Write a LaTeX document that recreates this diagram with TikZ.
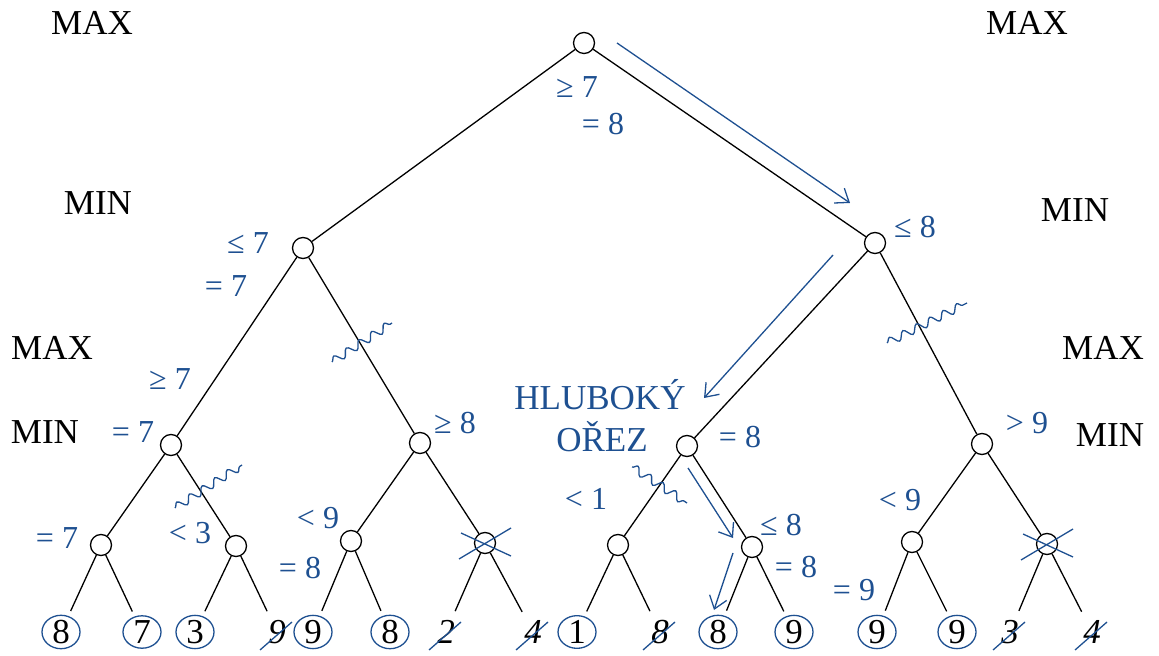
\documentclass[tikz,border=0pt]{standalone}
\usepackage{fontspec}
\setmainfont{Liberation Serif}
\usetikzlibrary{calc,arrows.meta,shapes.geometric,decorations.pathmorphing}
\definecolor{cutblue}{RGB}{30,80,145}

\begin{document}
\begin{tikzpicture}[x=0.5pt,y=-0.5pt,line width=0.65pt,>={Straight Barb[length=6pt,width=9pt]},
  nd/.style={circle,draw,fill=white,minimum size=10.5pt,inner sep=0pt},
  leaf/.style={ellipse,minimum width=19pt,minimum height=16pt,inner sep=0pt,outer sep=3pt,font=\fontsize{17.5}{19}\selectfont},
  ring/.style={leaf,draw=cutblue},
  val/.style={text=cutblue,inner sep=0pt,font=\fontsize{16}{18}\selectfont},
  lvl/.style={inner sep=0pt,font=\fontsize{17.5}{20}\selectfont},
  cut/.style={cutblue,decorate,decoration={snake,amplitude=2pt,segment length=7.5pt}},
  hint/.style={->,cutblue}]
  \useasboundingbox (0,0) rectangle (1159,656);

  \node[lvl] (max1) at (92,23) {MAX};
  \node[lvl] (max2) at (1027,23) {MAX};
  \node[lvl] (min1) at (98,203) {MIN};
  \node[lvl] (min2) at (1075,210) {MIN};
  \node[lvl] (max3) at (52,348) {MAX};
  \node[lvl] (max4) at (1103,348) {MAX};
  \node[lvl] (min3) at (45,432) {MIN};
  \node[lvl] (min4) at (1110,435) {MIN};

  \node[nd] (root) at (584,43) {};
  \node[nd] (a) at (303,248) {};
  \node[nd] (b) at (875,243) {};
  \node[nd] (aa) at (171,445) {};
  \node[nd] (ab) at (420,443) {};
  \node[nd] (ba) at (687,446) {};
  \node[nd] (bb) at (982,444) {};
  \node[nd] (aaa) at (101,545) {};
  \node[nd] (aab) at (236,546) {};
  \node[nd] (aba) at (351,541) {};
  \node[nd] (abb) at (485,543) {};
  \node[nd] (baa) at (618,545) {};
  \node[nd] (bab) at (752,547) {};
  \node[nd] (bba) at (912,542) {};
  \node[nd] (bbb) at (1047,544) {};

  \node[ring] (l1) at (61,632) {8};
  \node[ring] (l2) at (142,632) {7};
  \node[ring] (l3) at (195,632) {3};
  \node[leaf] (l4) at (277,632) {\itshape 9};
  \node[ring] (l5) at (313,632) {9};
  \node[ring] (l6) at (390,632) {8};
  \node[leaf] (l7) at (446,632) {\itshape 2};
  \node[leaf] (l8) at (533,632) {\itshape 4};
  \node[ring] (l9) at (577,632) {1};
  \node[leaf] (l10) at (660,632) {\itshape 8};
  \node[ring] (l11) at (718,632) {8};
  \node[ring] (l12) at (794,632) {9};
  \node[ring] (l13) at (877,632) {9};
  \node[ring] (l14) at (957,632) {9};
  \node[leaf] (l15) at (1010,632) {\itshape 3};
  \node[leaf] (l16) at (1092,632) {\itshape 4};

  \draw (root) -- (a) (root) -- (b);
  \draw (a) -- (aa) (a) -- (ab) (b) -- (ba) (b) -- (bb);
  \draw (aa) -- (aaa) (aa) -- (aab) (ab) -- (aba) (ab) -- (abb);
  \draw (ba) -- (baa) (ba) -- (bab) (bb) -- (bba) (bb) -- (bbb);
  \draw (aaa) -- (l1) (aaa) -- (l2) (aab) -- (l3) (aab) -- (l4);
  \draw (aba) -- (l5) (aba) -- (l6) (abb) -- (l7) (abb) -- (l8);
  \draw (baa) -- (l9) (baa) -- (l10) (bab) -- (l11) (bab) -- (l12);
  \draw (bba) -- (l13) (bba) -- (l14) (bbb) -- (l15) (bbb) -- (l16);

  \foreach \l in {l4,l7,l8,l10,l15,l16}
    \draw[cutblue] ($(\l)+(-17,18)$) -- ($(\l)+(15,-10)$);
  \foreach \n in {abb,bbb}
    \draw[cutblue] ($(\n)+(-26,16)$) -- ($(\n)+(26,-15)$)
                   ($(\n)+(-24,-10)$) -- ($(\n)+(26,13)$);

  \node[val] (v1) at (577,87) {≥ 7};
  \node[val] (v2) at (603,124) {= 8};
  \node[val] (v3) at (248,243) {≤ 7};
  \node[val] (v4) at (226,286) {= 7};
  \node[val] (v5) at (170,379) {≥ 7};
  \node[val] (v6) at (133,432) {= 7};
  \node[val] (v7) at (57,538) {= 7};
  \node[val] (v8) at (190,533) {< 3};
  \node[val] (v9) at (318,518) {< 9};
  \node[val] (v10) at (300,568) {= 8};
  \node[val] (v11) at (455,423) {≥ 8};
  \node[val] (v12) at (915,227) {≤ 8};
  \node[val] (v13) at (740,437) {= 8};
  \node[val] (v14) at (586,499) {< 1};
  \node[val] (v15) at (781,525) {≤ 8};
  \node[val] (v16) at (796,567) {= 8};
  \node[val] (v17) at (854,590) {= 9};
  \node[val] (v18) at (1027,423) {> 9};
  \node[val] (v19) at (900,500) {< 9};
  \node[lvl,text=cutblue] (deep1) at (600,395) {HLUBOKÝ};
  \node[lvl,text=cutblue] (deep2) at (602,437) {OŘEZ};

  \coordinate (h1s) at (617,43);  \coordinate (h1e) at (850,203);
  \coordinate (h2s) at (833,255); \coordinate (h2e) at (704,398);
  \coordinate (h3s) at (688,468); \coordinate (h3e) at (733,538);
  \coordinate (h4s) at (733,553); \coordinate (h4e) at (714,610);
  \draw[hint] (h1s) -- (h1e);
  \draw[hint] (h2s) -- (h2e);
  \draw[hint] (h3s) -- (h3e);
  \draw[hint] (h4s) -- (h4e);

  \coordinate (c1s) at (332,362); \coordinate (c1e) at (392,323);
  \coordinate (c2s) at (175,508); \coordinate (c2e) at (242,465);
  \coordinate (c3s) at (632,467); \coordinate (c3e) at (687,503);
  \coordinate (c4s) at (887,343); \coordinate (c4e) at (967,303);
  \draw[cut] (c1s) -- (c1e);
  \draw[cut] (c2s) -- (c2e);
  \draw[cut] (c3s) -- (c3e);
  \draw[cut] (c4s) -- (c4e);
\end{tikzpicture}
\end{document}
